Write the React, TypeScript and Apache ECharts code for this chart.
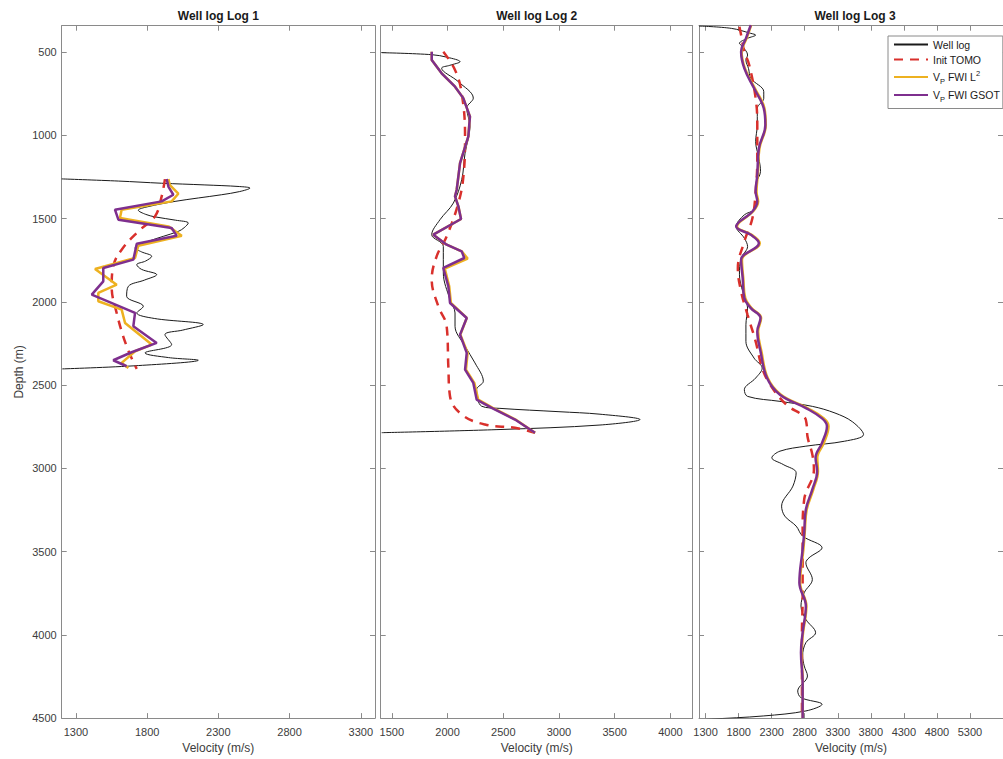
import React, { useEffect, useRef } from "react";
import * as echarts from "echarts";

const FONT = "'Liberation Sans', Arial, Helvetica, sans-serif";

const panelTitles = ["Well log Log 1", "Well log Log 2", "Well log Log 3"];
const seriesNames = ["Well log", "Init TOMO", "VP FWI L2", "VP FWI GSOT"];
const depthTicks = [500, 1000, 1500, 2000, 2500, 3000, 3500, 4000, 4500];
const velTicks1 = [1300, 1800, 2300, 2800, 3300];
const velTicks2 = [1500, 2000, 2500, 3000, 3500, 4000];
const velTicks3 = [1300, 1800, 2300, 2800, 3300, 3800, 4300, 4800, 5300];
const velRanges = [
  [1200, 3400],
  [1400, 4200],
  [1200, 5800],
];
const depthRange = [342, 4500];

// [velocity (m/s), depth (m)]
const log1Well = [
  [1200, 1262], [1600, 1275], [1900, 1288], [2200, 1298], [2450, 1308], [2522, 1317],
  [2450, 1338], [2323, 1357], [1996, 1397], [1800, 1430], [1738, 1450], [1790, 1475],
  [1855, 1490], [2000, 1510], [2089, 1527], [2060, 1555], [2019, 1577], [1808, 1637],
  [1715, 1677], [1760, 1700], [1832, 1727], [1790, 1755], [1727, 1777], [1760, 1805],
  [1867, 1837], [1780, 1870], [1668, 1907], [1656, 1967], [1773, 2027], [1727, 2067],
  [1850, 2100], [2194, 2137], [2050, 2170], [1925, 2197], [1972, 2257], [1785, 2307],
  [1950, 2335], [2159, 2351], [1738, 2383], [1204, 2403],
];
const log1Tomo = [
  [1925, 1263], [1902, 1367], [1855, 1487], [1738, 1577], [1621, 1687], [1562, 1787],
  [1551, 1907], [1586, 2067], [1656, 2267], [1727, 2403],
];
const log1L2 = [
  [1949, 1263], [1960, 1300], [2019, 1351], [1972, 1397], [1621, 1447], [1609, 1497],
  [1949, 1547], [2043, 1603], [1738, 1663], [1715, 1737], [1504, 1787], [1434, 1803],
  [1586, 1897], [1457, 1947], [1457, 1997], [1621, 2047], [1645, 2127], [1832, 2257],
  [1715, 2297], [1621, 2367], [1668, 2397],
];
const log1Gsot = [
  [1937, 1263], [1950, 1310], [1984, 1357], [1902, 1397], [1574, 1447], [1598, 1507],
  [1972, 1557], [2007, 1603], [1727, 1651], [1703, 1747], [1492, 1797], [1492, 1877],
  [1411, 1957], [1715, 2067], [1703, 2147], [1867, 2247], [1691, 2303], [1562, 2351],
  [1656, 2387],
];

const log2Well = [
  [1409, 504], [1858, 516], [2000, 532], [2112, 558], [2020, 580], [1947, 597],
  [2096, 678], [2231, 777], [2172, 837], [2201, 948], [2157, 1107], [2127, 1267],
  [2052, 1407], [1932, 1507], [1858, 1597], [1962, 1667], [1962, 1827], [2022, 1987],
  [2067, 2067], [2067, 2147], [2157, 2267], [2246, 2367], [2321, 2477], [2261, 2527],
  [2306, 2627], [2470, 2640], [3000, 2660], [3368, 2675], [3727, 2707], [3368, 2740],
  [2471, 2767], [1409, 2786],
];
const log2Tomo = [
  [1962, 498], [2067, 608], [2127, 747], [2157, 1008], [2142, 1248], [2097, 1407],
  [1992, 1607], [1902, 1727], [1858, 1867], [1917, 2027], [1992, 2147], [2007, 2387],
  [2022, 2567], [2127, 2677], [2336, 2737], [2605, 2757], [2785, 2786],
];
const log2L2 = [
  [1858, 498], [1858, 548], [1947, 628], [2067, 708], [2141, 777], [2201, 888],
  [2186, 1008], [2112, 1167], [2082, 1327], [2067, 1367], [2097, 1427], [2121, 1503],
  [1872, 1597], [1992, 1657], [2127, 1697], [2180, 1740], [1975, 1800], [2015, 1907],
  [2030, 2007], [2172, 2097], [2115, 2197], [2180, 2307], [2165, 2407], [2240, 2487],
  [2275, 2587], [2405, 2637], [2610, 2707], [2785, 2786],
];
const log2Gsot = [
  [1858, 498], [1858, 548], [1947, 628], [2067, 708], [2141, 777], [2201, 888],
  [2186, 1008], [2112, 1167], [2082, 1327], [2067, 1367], [2097, 1427], [2121, 1503],
  [1872, 1597], [1992, 1657], [2127, 1697], [2150, 1737], [1962, 1797], [2007, 1907],
  [2022, 2007], [2172, 2097], [2112, 2197], [2172, 2307], [2157, 2407], [2231, 2487],
  [2261, 2587], [2396, 2637], [2605, 2707], [2785, 2786],
];

const log3Well = [
  [1200, 344], [1690, 358], [1984, 388], [2057, 398], [1935, 418], [1812, 448],
  [1861, 468], [1935, 518], [1910, 548], [1950, 600], [1984, 658], [2180, 738],
  [2180, 778], [2082, 838], [2082, 938], [2057, 1038], [2106, 1138], [2131, 1218],
  [2057, 1298], [2082, 1398], [2033, 1448], [1886, 1478], [1763, 1548], [1886, 1618],
  [1935, 1668], [1837, 1738], [1812, 1838], [1861, 1938], [1935, 2038], [1910, 2138],
  [1910, 2238], [2033, 2338], [2156, 2398], [2057, 2458], [1886, 2528], [1935, 2568],
  [2425, 2598], [2915, 2628], [3258, 2668], [3520, 2720], [3690, 2797], [3405, 2837],
  [2817, 2867], [2425, 2897], [2302, 2937], [2474, 2977], [2670, 3027], [2621, 3107],
  [2450, 3227], [2498, 3287], [2670, 3347], [2768, 3407], [3062, 3477], [2866, 3537],
  [2817, 3567], [2915, 3667], [2792, 3747], [2743, 3827], [2817, 3907], [2964, 3987],
  [2817, 4047], [2768, 4127], [2792, 4187], [2841, 4247], [2694, 4337], [2743, 4377],
  [3062, 4417], [2817, 4457], [2180, 4487], [1347, 4507], [1200, 4511],
];
const log3Tomo = [
  [1812, 348], [1837, 398], [1886, 498], [1960, 578], [2057, 778], [2082, 938],
  [2082, 1138], [2057, 1338], [2008, 1498], [1886, 1638], [1788, 1798], [1837, 1938],
  [1935, 2078], [2057, 2238], [2156, 2398], [2278, 2498], [2523, 2618], [2790, 2690],
  [2830, 2740], [2841, 2807], [2915, 2917], [2939, 3007], [2792, 3187], [2768, 3387],
  [2768, 3587], [2768, 3787], [2758, 3987], [2758, 4187], [2758, 4500],
];
const log3L2 = [
  [1990, 338], [1920, 418], [1845, 498], [1895, 598], [2045, 718], [2190, 838],
  [2210, 938], [2115, 1078], [2090, 1238], [2070, 1338], [2095, 1398], [2015, 1458],
  [1775, 1548], [1995, 1598], [2120, 1648], [1850, 1748], [1870, 1858], [1900, 1978],
  [1995, 2038], [2140, 2098], [2095, 2178], [2145, 2298], [2240, 2458], [2440, 2558],
  [2840, 2638], [3090, 2700], [3160, 2747], [3090, 2847], [2990, 2937], [3000, 3017],
  [2930, 3127], [2830, 3247], [2800, 3387], [2780, 3487], [2730, 3687], [2825, 3827],
  [2775, 3987], [2750, 4107], [2770, 4287], [2770, 4500],
];
const log3Gsot = [
  [1984, 338], [1910, 418], [1837, 498], [1886, 598], [2033, 718], [2180, 838],
  [2204, 938], [2106, 1078], [2082, 1238], [2057, 1338], [2082, 1398], [2008, 1458],
  [1763, 1548], [1984, 1598], [2106, 1648], [1837, 1748], [1861, 1858], [1886, 1978],
  [1984, 2038], [2131, 2098], [2082, 2178], [2131, 2298], [2229, 2458], [2425, 2558],
  [2817, 2638], [3062, 2700], [3136, 2747], [3062, 2847], [2964, 2937], [2988, 3017],
  [2915, 3127], [2817, 3247], [2792, 3387], [2768, 3487], [2719, 3687], [2817, 3827],
  [2768, 3987], [2743, 4107], [2768, 4287], [2768, 4500],
];

const panels = [
  { well: log1Well, tomo: log1Tomo, l2: log1L2, gsot: log1Gsot, ticks: velTicks1, smoothFwi: false },
  { well: log2Well, tomo: log2Tomo, l2: log2L2, gsot: log2Gsot, ticks: velTicks2, smoothFwi: false },
  { well: log3Well, tomo: log3Tomo, l2: log3L2, gsot: log3Gsot, ticks: velTicks3, smoothFwi: true },
];

const gridLefts = [61.7, 380.7, 699];
const gridWidths = [313.3, 312, 312];
const gridTop = 25.7;
const gridHeight = 693.3;

const AXIS_COLOR = "#8a8a8a";
const LABEL_COLOR = "#3c3c3c";
const COLORS = ["#1a1a1a", "#d9302c", "#edb120", "#7e2f8e"];

const plain = (v: number) => String(v);

function buildOption() {
  const grid = panels.map((_, i) => ({
    left: gridLefts[i],
    top: gridTop,
    width: gridWidths[i],
    height: gridHeight,
    containLabel: false,
  }));

  const tickStyle = { show: true, inside: true, length: 5, lineStyle: { color: AXIS_COLOR, width: 1 } };
  const lineStyle = { show: true, onZero: false, lineStyle: { color: AXIS_COLOR, width: 1 } };

  const xAxis: any[] = [];
  panels.forEach((p, i) => {
    xAxis.push({
      type: "value",
      gridIndex: i,
      position: "bottom",
      min: velRanges[i][0],
      max: velRanges[i][1],
      axisLine: lineStyle,
      axisTick: { ...tickStyle, customValues: p.ticks },
      axisLabel: {
        customValues: p.ticks,
        formatter: plain,
        color: LABEL_COLOR,
        fontSize: 11,
        fontFamily: FONT,
        margin: 8,
      },
      splitLine: { show: false },
      name: "Velocity (m/s)",
      nameLocation: "middle",
      nameGap: 22,
      nameTextStyle: { color: LABEL_COLOR, fontSize: 12, fontFamily: FONT },
    });
  });
  panels.forEach((p, i) => {
    xAxis.push({
      type: "value",
      gridIndex: i,
      position: "top",
      min: velRanges[i][0],
      max: velRanges[i][1],
      axisLine: lineStyle,
      axisTick: { ...tickStyle, customValues: p.ticks },
      axisLabel: { show: false },
      splitLine: { show: false },
    });
  });

  const yAxis: any[] = [];
  panels.forEach((_, i) => {
    yAxis.push({
      type: "value",
      gridIndex: i,
      position: "left",
      inverse: true,
      min: depthRange[0],
      max: depthRange[1],
      axisLine: lineStyle,
      axisTick: { ...tickStyle, customValues: depthTicks },
      axisLabel: {
        show: i === 0,
        customValues: depthTicks,
        formatter: plain,
        color: LABEL_COLOR,
        fontSize: 11,
        fontFamily: FONT,
        margin: 5,
      },
      splitLine: { show: false },
      name: i === 0 ? "Depth (m)" : "",
      nameLocation: "middle",
      nameGap: 37,
      nameTextStyle: { color: LABEL_COLOR, fontSize: 12, fontFamily: FONT },
    });
  });
  panels.forEach((_, i) => {
    yAxis.push({
      type: "value",
      gridIndex: i,
      position: "right",
      inverse: true,
      min: depthRange[0],
      max: depthRange[1],
      axisLine: lineStyle,
      axisTick: { ...tickStyle, customValues: depthTicks },
      axisLabel: { show: false },
      splitLine: { show: false },
    });
  });

  const series: any[] = [];
  panels.forEach((p, i) => {
    const base = { type: "line", xAxisIndex: i, yAxisIndex: i, symbol: "none", showSymbol: false, clip: true };
    series.push({
      ...base,
      name: seriesNames[0],
      data: p.well,
      smooth: 0.35,
      lineStyle: { color: COLORS[0], width: 1 },
      itemStyle: { color: COLORS[0] },
      z: 2,
    });
    series.push({
      ...base,
      name: seriesNames[1],
      data: p.tomo,
      smooth: 0.4,
      lineStyle: { color: COLORS[1], width: 2.5, type: [9, 7] },
      itemStyle: { color: COLORS[1] },
      z: 3,
    });
    series.push({
      ...base,
      name: seriesNames[2],
      data: p.l2,
      smooth: p.smoothFwi ? 0.4 : false,
      lineStyle: { color: COLORS[2], width: 2.5 },
      itemStyle: { color: COLORS[2] },
      z: 4,
    });
    series.push({
      ...base,
      name: seriesNames[3],
      data: p.gsot,
      smooth: p.smoothFwi ? 0.4 : false,
      lineStyle: { color: COLORS[3], width: 2.5 },
      itemStyle: { color: COLORS[3] },
      z: 5,
    });
  });

  const title = panelTitles.map((t, i) => ({
    text: t,
    left: gridLefts[i] + gridWidths[i] / 2,
    top: 10,
    textAlign: "center",
    padding: 0,
    textStyle: { fontSize: 12, fontWeight: "bold", color: "#1a1a1a", fontFamily: FONT },
  }));

  const legendFormatter = (name: string) => {
    if (name === "VP FWI L2") return "{n|V}{sub|P}{n| FWI L}{sup|2}";
    if (name === "VP FWI GSOT") return "{n|V}{sub|P}{n| FWI GSOT}";
    return "{n|" + name + "}";
  };

  return {
    animation: false,
    backgroundColor: "#ffffff",
    title,
    grid,
    xAxis,
    yAxis,
    series,
    legend: {
      data: seriesNames,
      orient: "vertical",
      left: 888,
      top: 36,
      padding: [3, 3, 5, 5],
      itemWidth: 34,
      itemHeight: 11,
      itemGap: 4,
      itemTextGap: 4,
      borderColor: "#8a8a8a",
      borderWidth: 1,
      backgroundColor: "#ffffff",
      itemStyle: { opacity: 0, borderWidth: 0 },
      formatter: legendFormatter,
      textStyle: {
        fontFamily: FONT,
        fontSize: 10.5,
        color: "#1a1a1a",
        rich: {
          n: { fontSize: 10.5, fontFamily: FONT, color: "#1a1a1a" },
          sub: { fontSize: 7.5, fontFamily: FONT, color: "#1a1a1a", padding: [9, 0, 0, 0] },
          sup: { fontSize: 7.5, fontFamily: FONT, color: "#1a1a1a", padding: [0, 0, 8, 0] },
        },
      },
    },
  };
}

export default function App() {
  const ref = useRef<HTMLDivElement>(null);
  useEffect(() => {
    if (!ref.current) return;
    const chart = echarts.init(ref.current, undefined, { renderer: "svg" });
    chart.setOption(buildOption() as any);
    return () => {
      chart.dispose();
    };
  }, []);
  return (
    <div
      ref={ref}
      style={{ position: "absolute", left: 0, top: 0, width: 1003, height: 759, background: "#fff" }}
    />
  );
}
